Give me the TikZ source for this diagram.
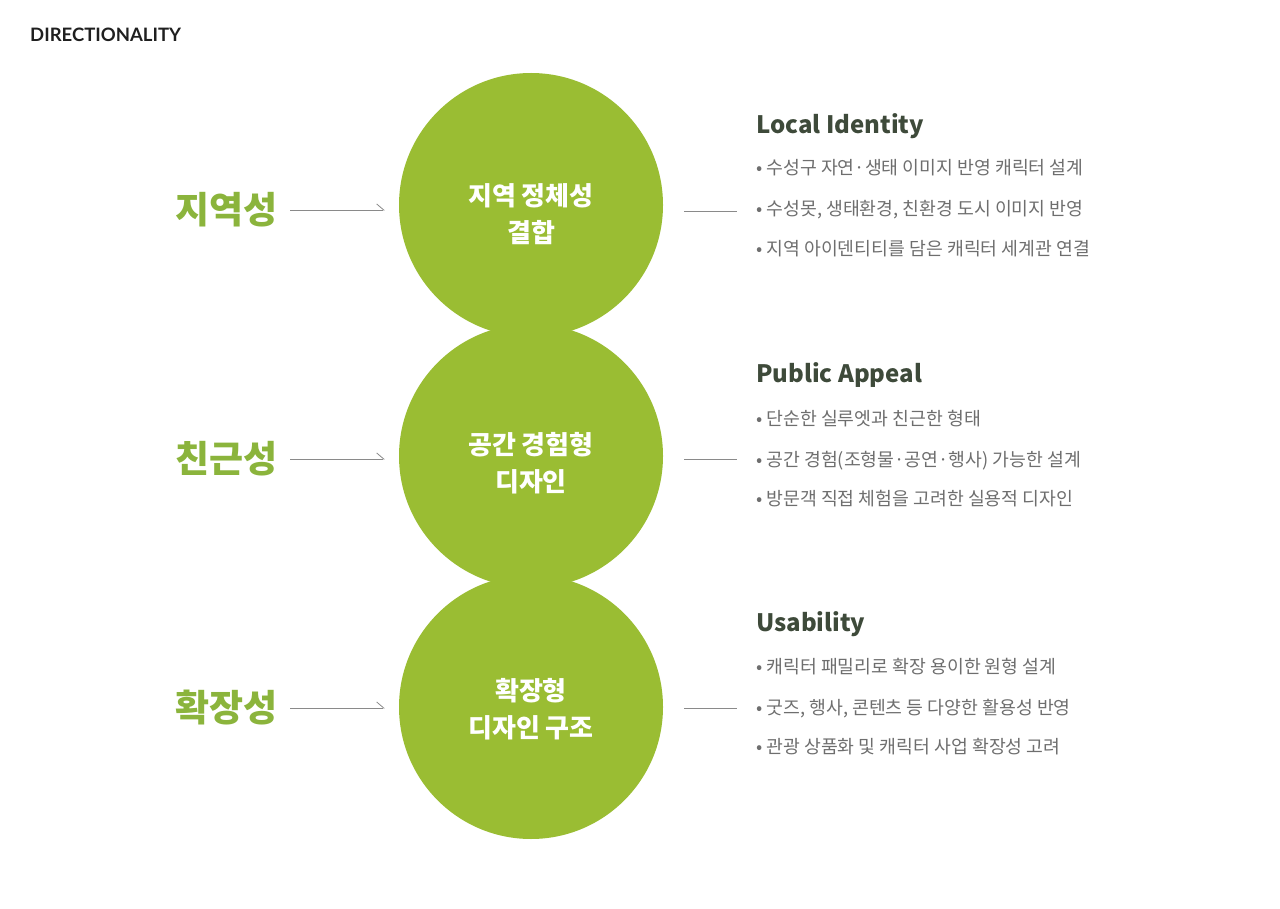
\documentclass[tikz,border=0pt]{standalone}
\usepackage{fontspec}
\setmainfont{Noto Sans CJK KR}
\newfontfamily\headfont{Lato}
\usetikzlibrary{arrows.meta}
\definecolor{leaf}{HTML}{9ABD33}
\definecolor{leaftext}{HTML}{8BB43C}
\definecolor{heading}{HTML}{3E4A3A}
\definecolor{bodygray}{HTML}{6E6E6E}
\definecolor{linegray}{HTML}{8A8A8A}
\begin{document}
\begin{tikzpicture}[x=1pt,y=-1pt,
  disc/.style={circle,fill=leaf,minimum size=264pt,inner sep=0pt},
  disctext/.style={text=white,font=\fontsize{26}{37}\selectfont\bfseries,align=center},
  sidelabel/.style={anchor=east,text=leaftext,font=\fontsize{37}{40}\selectfont\bfseries,inner sep=0pt},
  heading/.style={anchor=base west,text=heading,font=\fontsize{24}{28}\selectfont\bfseries,inner sep=0pt},
  bullet/.style={anchor=base west,text=bodygray,font=\fontsize{18.3}{22}\selectfont,inner sep=0pt},
  pointer/.style={draw=linegray,line width=0.8pt,-{Straight Barb[harpoon,length=7pt,width=12pt]},shorten <=14pt,shorten >=14pt},
  tie/.style={draw=linegray,line width=0.8pt}]
\useasboundingbox (0,0) rectangle (1280,909);

\node[anchor=base west,inner sep=0pt,text=black!88,font=\headfont\fontsize{18.5}{20}\selectfont\bfseries] (title) at (30,42) {DIRECTIONALITY};

% three overlapping discs
\node[disc] (c1) at (531,205) {};
\node[disc] (c2) at (531,456) {};
\node[disc] (c3) at (531,707) {};

\node[disctext] (t1) at ([yshift=-9pt]c1.center) {지역 정체성\\결합};
\node[disctext] (t2) at ([yshift=-7pt]c2.center) {공간 경험형\\디자인};
\node[disctext] (t3) at ([yshift=-2pt]c3.center) {확장형\\디자인 구조};

% left keywords with pointers
\node[sidelabel] (l1) at (278,210) {지역성};
\node[sidelabel] (l2) at (278,459) {친근성};
\node[sidelabel] (l3) at (278,708) {확장성};
\draw[pointer,shorten <=12pt] (l1.east) -- (l1.east -| c1.west);
\draw[pointer,shorten <=12pt] (l2.east) -- (l2.east -| c2.west);
\draw[pointer,shorten <=12pt] (l3.east) -- (l3.east -| c3.west);

% right descriptions
\node[heading] (h1) at (756,134) {Local Identity};
\node[bullet] (b11) at (756,175) {• 수성구 자연·생태 이미지 반영 캐릭터 설계};
\node[bullet] (b12) at (756,216) {• 수성못, 생태환경, 친환경 도시 이미지 반영};
\node[bullet] (b13) at (756,256) {• 지역 아이덴티티를 담은 캐릭터 세계관 연결};

\node[heading] (h2) at (756,382) {Public Appeal};
\node[bullet] (b21) at (756,425) {• 단순한 실루엣과 친근한 형태};
\node[bullet] (b22) at (756,466) {• 공간 경험(조형물·공연·행사) 가능한 설계};
\node[bullet] (b23) at (756,505) {• 방문객 직접 체험을 고려한 실용적 디자인};

\node[heading] (h3) at (756,631) {Usability};
\node[bullet] (b31) at (756,673) {• 캐릭터 패밀리로 확장 용이한 원형 설계};
\node[bullet] (b32) at (756,714) {• 굿즈, 행사, 콘텐츠 등 다양한 활용성 반영};
\node[bullet] (b33) at (756,753) {• 관광 상품화 및 캐릭터 사업 확장성 고려};

\coordinate (r1) at (737,211);
\coordinate (r2) at (737,459);
\coordinate (r3) at (737,708);
\draw[tie,shorten <=21pt] (c1.east |- r1) -- (r1);
\draw[tie,shorten <=21pt] (c2.east |- r2) -- (r2);
\draw[tie,shorten <=21pt] (c3.east |- r3) -- (r3);
\end{tikzpicture}
\end{document}
